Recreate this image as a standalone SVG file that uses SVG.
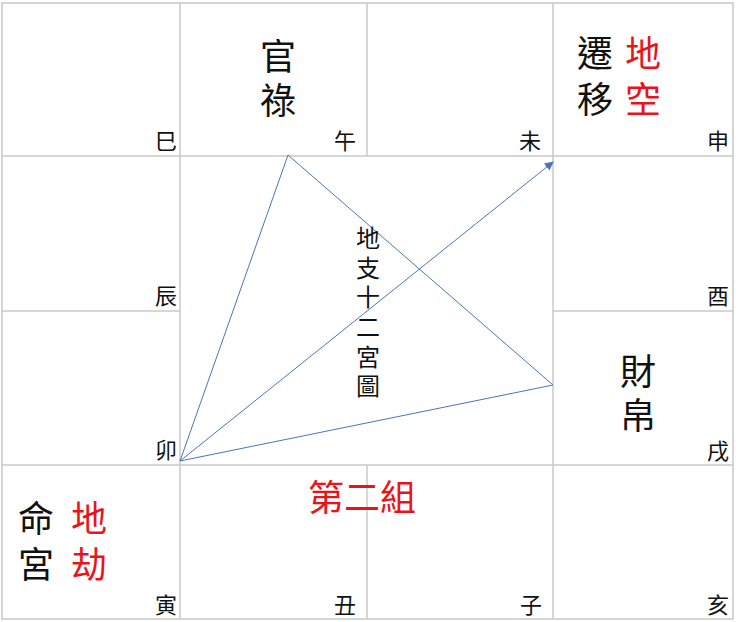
<svg xmlns="http://www.w3.org/2000/svg" width="740" height="622" viewBox="0 0 740 622">
<defs>
<style>
.grid{stroke:#c8c8c8;stroke-width:1.5;fill:none}
.conn{stroke:#4a76b8;stroke-width:1;fill:none}
.br{font-family:"Noto Sans CJK TC","Noto Sans CJK SC",sans-serif;font-size:22px;fill:#111;text-anchor:middle}
.big{font-family:"Noto Sans CJK TC","Noto Sans CJK SC",sans-serif;font-size:36px;fill:#111;text-anchor:middle}
.red{fill:#e8141a}
.mid{font-family:"Noto Sans CJK TC","Noto Sans CJK SC",sans-serif;font-size:24px;fill:#111;text-anchor:middle}
</style>
<marker id="arr" viewBox="0 0 10 10" refX="9" refY="5" markerWidth="9" markerHeight="9" markerUnits="userSpaceOnUse" orient="auto">
<path d="M0,0 L10,5 L0,10 z" fill="#4a76b8"/>
</marker>
</defs>
<rect width="740" height="622" fill="#fff"/>
<g id="grid" class="grid">
<rect x="2" y="3" width="731" height="616"/>
<line x1="180" y1="3" x2="180" y2="619"/>
<line x1="553" y1="3" x2="553" y2="619"/>
<line x1="367" y1="3" x2="367" y2="156"/>
<line x1="367" y1="465" x2="367" y2="619"/>
<line x1="2" y1="156" x2="733" y2="156"/>
<line x1="2" y1="465" x2="733" y2="465"/>
<line x1="2" y1="311" x2="180" y2="311"/>
<line x1="553" y1="311" x2="733" y2="311"/>
</g>
<g id="connectors" class="conn">
<line x1="180" y1="461" x2="288" y2="155"/>
<line x1="288" y1="155" x2="553" y2="385"/>
<line x1="180" y1="461" x2="553" y2="385"/>
<line x1="180" y1="461" x2="553" y2="162" marker-end="url(#arr)"/>
</g>
<g id="cell-si"><text class="br" x="166" y="149">巳</text></g>
<g id="cell-wu"><text class="big" x="278" y="70">官</text><text class="big" x="278" y="114">祿</text><text class="br" x="345" y="149">午</text></g>
<g id="cell-wei"><text class="br" x="530" y="149">未</text></g>
<g id="cell-shen"><text class="big" x="595" y="67">遷</text><text class="big" x="595" y="113">移</text><text class="big red" x="643" y="67">地</text><text class="big red" x="643" y="113">空</text><text class="br" x="718" y="149">申</text></g>
<g id="cell-chen"><text class="br" x="166" y="304">辰</text></g>
<g id="cell-you"><text class="br" x="718" y="304">酉</text></g>
<g id="cell-mao"><text class="br" x="166" y="458">卯</text></g>
<g id="cell-xu"><text class="big" x="638" y="385">財</text><text class="big" x="638" y="429">帛</text><text class="br" x="718" y="459">戌</text></g>
<g id="cell-yin"><text class="big" x="36" y="532">命</text><text class="big" x="36" y="578">宮</text><text class="big red" x="89" y="532">地</text><text class="big red" x="89" y="578">劫</text><text class="br" x="166" y="613">寅</text></g>
<g id="cell-chou"><text class="br" x="345" y="613">丑</text></g>
<g id="cell-zi"><text class="br" x="531" y="613">子</text></g>
<g id="cell-hai"><text class="br" x="718" y="613">亥</text></g>
<g id="title"><text class="mid"><tspan x="368" y="247">地</tspan><tspan x="368" y="277">支</tspan><tspan x="368" y="306">十</tspan><tspan x="368" y="336">二</tspan><tspan x="368" y="366">宮</tspan><tspan x="368" y="395">圖</tspan></text></g>
<g id="group-label"><text class="big red" x="362" y="511">第二組</text></g>
</svg>
